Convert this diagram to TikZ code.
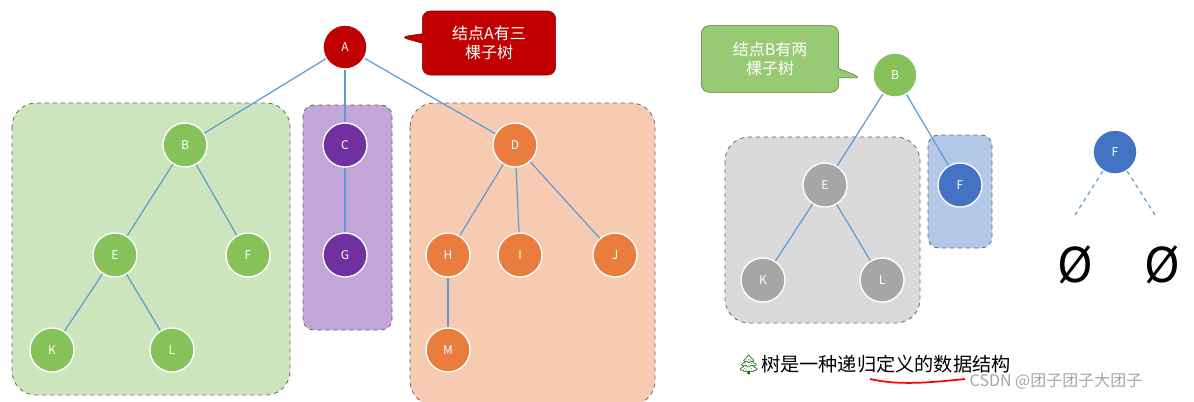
\documentclass[tikz,border=0pt]{standalone}
\usepackage{fontspec}
\setmainfont{Noto Sans CJK SC}
\newfontfamily\emo{Noto Emoji}
\usetikzlibrary{shapes.callouts}
\definecolor{gn}{HTML}{86C15A}\definecolor{gbox}{HTML}{CDE5BC}
\definecolor{pn}{HTML}{7030A0}\definecolor{pbox}{HTML}{C2A6D8}
\definecolor{on}{HTML}{E87D3E}\definecolor{obox}{HTML}{F7CBB2}
\definecolor{rn}{HTML}{C00000}\definecolor{gyn}{HTML}{A6A6A6}\definecolor{gybox}{HTML}{DADADA}
\definecolor{bn}{HTML}{4472C4}\definecolor{bbox}{HTML}{B4C7E7}\definecolor{edge}{HTML}{5B9BD5}
\tikzset{
 nd/.style={circle,minimum size=33pt,inner sep=0pt,draw=white,line width=1pt,text=white,font=\small},
 box/.style={rounded corners=18pt,dashed,draw=gray!80!black,line width=0.6pt},
 ed/.style={draw=edge,line width=0.9pt},
}
\begin{document}
\begin{tikzpicture}[x=0.75pt,y=-0.75pt]
\useasboundingbox (0,0) rectangle (1194,401);
\fill[white] (0,0) rectangle (1194,401);
% boxes
\draw[box,fill=gbox] (12,103) rectangle (290,395);
\draw[box,fill=pbox,rounded corners=8pt] (303,105) rectangle (392,330);
\draw[box,fill=obox] (410,103) rectangle (655,405);
\draw[box,fill=gybox] (725,137) rectangle (920,323);
\draw[box,fill=bbox,rounded corners=8pt] (928,135) rectangle (992,248);
% nodes
\node[nd,fill=rn] (A) at (345,47) {A};
\node[nd,fill=gn] (B) at (185,145) {B};
\node[nd,fill=pn] (C) at (345,145) {C};
\node[nd,fill=on] (D) at (515,145) {D};
\node[nd,fill=gn] (E) at (115,255) {E};
\node[nd,fill=gn] (F) at (248,255) {F};
\node[nd,fill=pn] (G) at (345,255) {G};
\node[nd,fill=on] (H) at (448,255) {H};
\node[nd,fill=on] (I) at (520,255) {I};
\node[nd,fill=on] (J) at (615,255) {J};
\node[nd,fill=gn] (K) at (52,350) {K};
\node[nd,fill=gn] (L) at (172,350) {L};
\node[nd,fill=on] (M) at (448,350) {M};
\foreach \a/\b in {A/B,A/C,A/D,B/E,B/F,C/G,D/H,D/I,D/J,E/K,E/L,H/M} \draw[ed] (\a)--(\b);
\node[nd,fill=gn] (B2) at (895,75) {B};
\node[nd,fill=gyn] (E2) at (825,185) {E};
\node[nd,fill=bn] (F2) at (960,185) {F};
\node[nd,fill=gyn] (K2) at (763,280) {K};
\node[nd,fill=gyn] (L2) at (882,280) {L};
\foreach \a/\b in {B2/E2,B2/F2,E2/K2,E2/L2} \draw[ed] (\a)--(\b);
\node[nd,fill=bn] (F3) at (1115,152) {F};
\coordinate (n1) at (1075,215); \coordinate (n2) at (1155,215);
\draw[ed,dashed] (F3)--(n1); \draw[ed,dashed] (F3)--(n2);
\node (e1) at (1075,265) {\fontsize{36}{36}\selectfont Ø};
\node (e2) at (1162,265) {\fontsize{36}{36}\selectfont Ø};
% callouts
\node[rectangle callout,fill=rn,draw=rn!70!black,rounded corners=6pt,text=white,align=center,font=\large,minimum width=100pt,minimum height=48pt,callout absolute pointer={(400,37)}] (cA) at (489,43) {结点A有三\\棵子树};
\node[rectangle callout,fill=gn!85!white,draw=gn!60!black,rounded corners=6pt,text=white,align=center,font=\large,minimum width=103pt,minimum height=50pt,callout absolute pointer={(862,78)}] (cB) at (770,59) {结点B有两\\棵子树};
% text
\node[anchor=west,font=\Large] (t) at (732,365) {{\emo\color{green!40!black}🌲}树是一种递归定义的数据结构};
\draw[red,line width=1.3pt] (870,379) .. controls (900,386) and (935,382) .. (965,379);
\node[anchor=west,text=gray!70,font=\large] (w) at (965,381) {CSDN @团子团子大团子};
\end{tikzpicture}
\end{document}
